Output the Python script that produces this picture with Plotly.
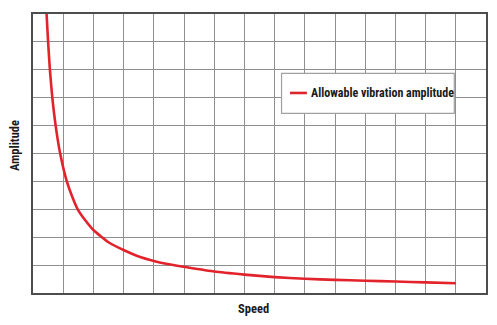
import plotly.graph_objects as go

# Curve (grid units: 15 columns x 10 rows)
speed = [0.45, 0.50, 0.56, 0.64, 0.75, 0.90, 1.12, 1.30, 1.48, 1.75, 2.0, 2.5, 3.0, 3.5,
         4.0, 4.5, 5.0, 6.0, 7.0, 8.0, 9.0, 10.0, 11.0, 12.0, 13.0, 14.0]
amplitude = [10.0, 9.0, 8.0, 7.0, 6.0, 5.0, 4.0, 3.45, 3.0, 2.58, 2.26, 1.82, 1.54, 1.31,
             1.15, 1.03, 0.94, 0.77, 0.66, 0.57, 0.51, 0.47, 0.44, 0.41, 0.38, 0.35]
series_name = "Allowable vibration amplitude"

RED = "#e2232b"
FONT = "Roboto Condensed, Liberation Sans Narrow, sans-serif"
TXT = "#1a1a1a"

fig = go.Figure()
fig.add_trace(go.Scatter(
    x=speed, y=amplitude, mode="lines", name=series_name,
    line=dict(color=RED, width=2.6, shape="spline", smoothing=0.5),
    showlegend=False, hoverinfo="skip"))

axis_common = dict(
    showgrid=True, gridcolor="#8f8f8f", gridwidth=1.3, dtick=1, tick0=0,
    showticklabels=False, ticks="", zeroline=False,
    showline=True, mirror=True, linecolor="#4d4d4d", linewidth=2,
    fixedrange=True)

fig.update_xaxes(range=[0, 15], **axis_common)
fig.update_yaxes(range=[0, 10], **axis_common)

# Legend box drawn in data coordinates
fig.add_shape(type="rect", x0=8.23, x1=13.95, y0=6.44, y1=7.87,
              line=dict(color="#a0a0a0", width=1.2), fillcolor="white", layer="above")
fig.add_shape(type="line", x0=8.51, x1=9.07, y0=7.17, y1=7.17,
              line=dict(color=RED, width=2.6), layer="above")
fig.add_annotation(x=9.13, y=7.17, xref="x", yref="y", text="<b>" + series_name + "</b>",
                   showarrow=False, xanchor="left", yanchor="middle",
                   font=dict(family=FONT, size=12, color=TXT))

# Axis titles (pixel positions converted to paper coordinates)
L, R, T, B = 33, 9, 14, 32
W, H = 497, 325
pw, ph = W - L - R, H - T - B
fig.add_annotation(text="<b>Amplitude</b>", xref="paper", yref="paper",
                   x=(14 - L) / pw, y=(H - B - 146) / ph, xanchor="center", yanchor="middle",
                   showarrow=False, textangle=-90, font=dict(family=FONT, size=12.5, color=TXT))
fig.add_annotation(text="<b>Speed</b>", xref="paper", yref="paper",
                   x=(254 - L) / pw, y=(H - B - 308) / ph, xanchor="center", yanchor="middle",
                   showarrow=False, font=dict(family=FONT, size=12.5, color=TXT))

fig.update_layout(
    width=W, height=H,
    margin=dict(l=L, r=R, t=T, b=B),
    paper_bgcolor="white", plot_bgcolor="white",
    showlegend=False)

fig.write_html("out.html", config={"displayModeBar": False})
